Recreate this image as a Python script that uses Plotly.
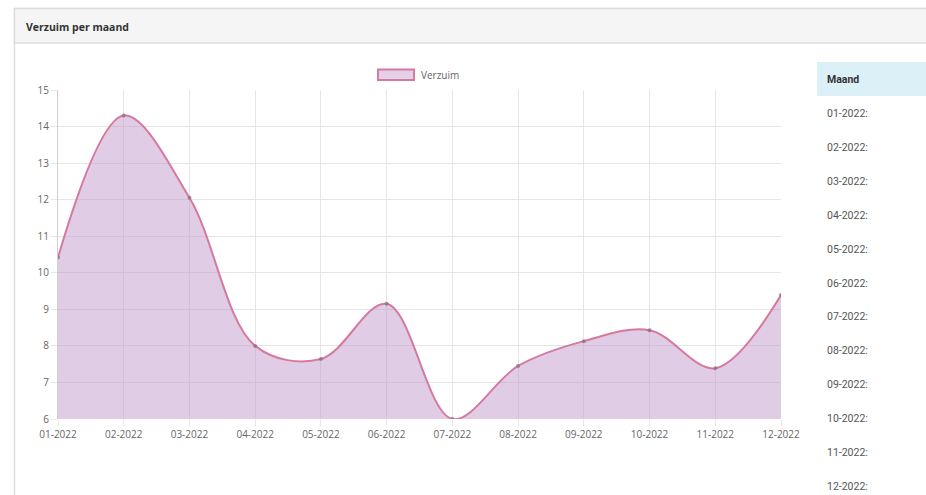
import plotly.graph_objects as go

# ---- data ----
months = ["01-2022", "02-2022", "03-2022", "04-2022", "05-2022", "06-2022",
          "07-2022", "08-2022", "09-2022", "10-2022", "11-2022", "12-2022"]
verzuim = [10.42, 14.3, 12.05, 8.0, 7.64, 9.15, 6.0, 7.45, 8.13, 8.43, 7.39, 9.39]
y_ticks = [6, 7, 8, 9, 10, 11, 12, 13, 14, 15]
panel_title = "Verzuim per maand"
series_name = "Verzuim"
table_header = "Maand"

W, H = 926, 495


def px(x):
    return x / W


def py(y):
    return 1 - y / H


FONT = "Open Sans, Liberation Sans, Arial, sans-serif"
LINE = "#d6799f"
FILL = "rgba(190,150,200,0.48)"

fig = go.Figure()
fig.add_trace(go.Scatter(
    x=months, y=verzuim, name=series_name,
    mode="lines+markers",
    line=dict(color=LINE, width=2, shape="spline", smoothing=1.0),
    marker=dict(size=4, color="rgba(140,110,130,0.75)"),
    fill="tozeroy", fillcolor=FILL,
    cliponaxis=True, showlegend=False,
))

shapes = []
# panel outline
shapes.append(dict(type="rect", xref="paper", yref="paper",
                   x0=px(14.5), x1=px(940), y0=py(520), y1=py(8.5),
                   line=dict(color="#dddddd", width=1.5), fillcolor="rgba(0,0,0,0)", layer="below"))
# header bar
shapes.append(dict(type="rect", xref="paper", yref="paper",
                   x0=px(14.5), x1=px(940), y0=py(43), y1=py(8.5),
                   line=dict(color="#dddddd", width=1.5), fillcolor="#f5f5f5", layer="below"))
# table header cell
shapes.append(dict(type="rect", xref="paper", yref="paper",
                   x0=px(817), x1=px(940), y0=py(96), y1=py(62),
                   line=dict(width=0), fillcolor="#dcf0f8", layer="below"))
# legend swatch
shapes.append(dict(type="rect", xref="paper", yref="paper",
                   x0=px(378), x1=px(414), y0=py(80), y1=py(69.5),
                   line=dict(color=LINE, width=2), fillcolor="#e3cfe6"))

annotations = []
annotations.append(dict(text=series_name, xref="paper", yref="paper",
                        x=px(419), y=py(75), xanchor="left", yanchor="middle", showarrow=False,
                        font=dict(family=FONT, size=10, color="#666666")))
annotations.append(dict(text="<b>" + panel_title + "</b>", xref="paper", yref="paper",
                        x=px(24), y=py(27), xanchor="left", yanchor="middle", showarrow=False,
                        font=dict(family=FONT, size=10.5, color="#333333")))
annotations.append(dict(text="<b>" + table_header + "</b>", xref="paper", yref="paper",
                        x=px(825), y=py(79), xanchor="left", yanchor="middle", showarrow=False,
                        font=dict(family="Roboto, sans-serif", size=10.5, color="#333333")))
for i, m in enumerate(months):
    annotations.append(dict(text=m + ":", xref="paper", yref="paper",
                            x=px(825), y=py(113.5 + i * 33.9), xanchor="left", yanchor="middle",
                            showarrow=False,
                            font=dict(family="Roboto, sans-serif", size=10.5, color="#555555")))

fig.update_layout(
    width=W, height=H,
    margin=dict(l=0, r=0, t=0, b=0, pad=0, autoexpand=False),
    paper_bgcolor="white", plot_bgcolor="white",
    showlegend=False,
    shapes=shapes,
    annotations=annotations,
    xaxis=dict(domain=[px(58), px(781)], range=[0, 11], type="category",
               automargin=False,
               showgrid=True, gridcolor="#e6e6e6", gridwidth=1,
               showline=False, zeroline=False,
               ticks="outside", ticklen=6, tickcolor="#e6e6e6",
               tickfont=dict(family=FONT, size=10, color="#666666")),
    yaxis=dict(domain=[py(419), py(90)], range=[6, 15], tickvals=y_ticks,
               automargin=False,
               showgrid=True, gridcolor="#e6e6e6", gridwidth=1,
               showline=True, linecolor="#d0d0d0", linewidth=1, zeroline=False,
               ticks="outside", ticklen=6, tickcolor="#e6e6e6",
               tickfont=dict(family=FONT, size=10, color="#666666")),
)

fig.write_html("out.html")
